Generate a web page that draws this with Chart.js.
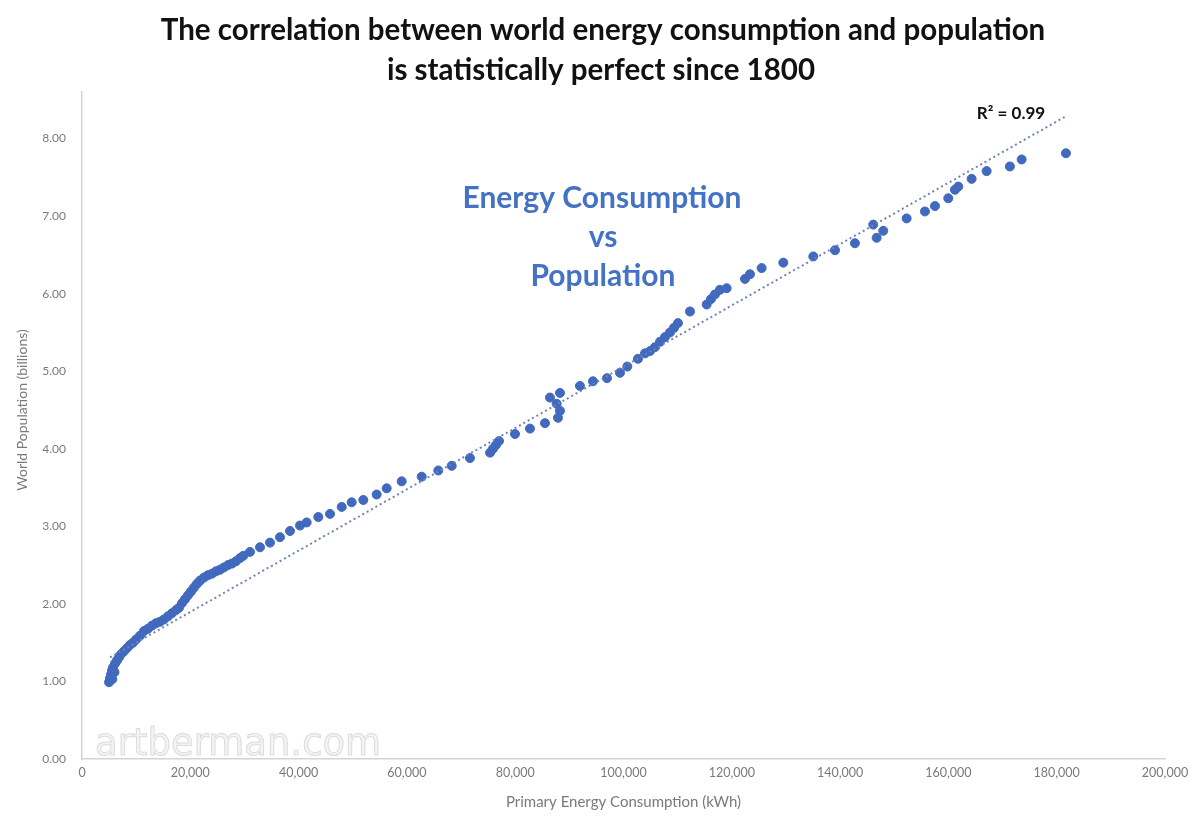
<!DOCTYPE html>
<html>
<head>
<meta charset="utf-8">
<script src="https://cdn.jsdelivr.net/npm/chart.js@4.4.1/dist/chart.umd.min.js"></script>
<style>
  body { margin: 0; background: #fff; }
  #wrap { width: 1199px; height: 817px; }
</style>
</head>
<body>
<div id="wrap"><canvas id="energyPop" width="1199" height="817"></canvas></div>
<script>
// primary energy consumption (TWh, axis says kWh) vs world population (billions)
const energy = [
  5000, 5170, 5360, 5540, 5600, 5730, 6000, 6090, 6460, 6830, 7200, 7760, 8310, 8860, 9420, 9970,
  10710, 11450, 12190, 12930, 13660, 14400, 15140, 15880, 16620, 17360, 17910, 18470, 19020,
  19570, 20130, 20680, 21240, 21790, 22530, 23270, 24010, 24740, 25480, 26220, 26960, 27700,
  28440, 29180, 29790, 31020, 32870, 34720, 36560, 38410, 40260, 41490, 43640, 45800, 47960,
  49800, 51950, 54420, 56270, 59040, 62730, 65800, 68270, 71650, 75360, 75900, 76460, 77010,
  79960, 82730, 85500, 87900, 88270, 87660, 86420, 88270, 91960, 94360, 96950, 99350, 100700,
  102670, 103970, 104900, 105810, 106740, 107660, 108590, 109330, 110060, 112280, 115360,
  116150, 116890, 117810, 119050, 122430, 123360, 125510, 129510, 135050, 139060, 142740,
  146120, 146750, 147970, 152290, 155670, 157520, 159980, 161210, 161820, 164290, 167060,
  171360, 173530, 181710
];
const population = [
  0.99, 1.04, 1.09, 1.14, 1.03, 1.18, 1.12, 1.23, 1.27, 1.31, 1.35, 1.39, 1.43, 1.47, 1.50, 1.54,
  1.59, 1.65, 1.68, 1.72, 1.75, 1.77, 1.80, 1.84, 1.88, 1.92, 1.95, 2.01, 2.06,
  2.11, 2.16, 2.21, 2.26, 2.30, 2.34, 2.37, 2.39, 2.42, 2.44, 2.47, 2.50, 2.52,
  2.55, 2.59, 2.62, 2.67, 2.73, 2.79, 2.86, 2.94, 3.01, 3.05, 3.12, 3.16, 3.25,
  3.31, 3.34, 3.41, 3.49, 3.58, 3.64, 3.72, 3.78, 3.88, 3.95, 4.00, 4.05, 4.10,
  4.19, 4.26, 4.33, 4.40, 4.49, 4.58, 4.66, 4.72, 4.81, 4.87, 4.91, 4.98, 5.06,
  5.16, 5.23, 5.26, 5.31, 5.38, 5.44, 5.50, 5.56, 5.62, 5.77, 5.86,
  5.93, 5.99, 6.05, 6.07, 6.19, 6.25, 6.33, 6.40, 6.48, 6.56, 6.65,
  6.89, 6.72, 6.81, 6.97, 7.06, 7.13, 7.23, 7.34, 7.38, 7.48, 7.58,
  7.64, 7.73, 7.81
];
// linear trendline end points
const trendEnergy = [5170, 181530];
const trendPopulation = [1.31, 8.28];

const titleLines = ['The correlation between world energy consumption and population', 'is statistically perfect since 1800'];
const noteLines = ['Energy Consumption', 'vs', 'Population'];
const rSquared = 'R\u00b2 = 0.99';
const watermark = 'artberman.com';
const yTitle = 'World Population (billions)';

const points = energy.map((e, i) => ({ x: e, y: population[i] }));
const trend = trendEnergy.map((e, i) => ({ x: e, y: trendPopulation[i] }));

const textPlugin = {
  id: 'textPlugin',
  beforeDatasetsDraw(chart) {
    const ctx = chart.ctx;
    ctx.save();
    ctx.font = '37px "DejaVu Sans"';
    ctx.textAlign = 'left';
    ctx.textBaseline = 'alphabetic';
    ctx.fillStyle = '#f4f4f4';
    ctx.strokeStyle = '#dcdcdc';
    ctx.lineWidth = 1;
    ctx.fillText(watermark, 95, 755);
    ctx.strokeText(watermark, 95, 755);
    ctx.restore();
  },
  afterDraw(chart) {
    const ctx = chart.ctx;
    ctx.save();
    ctx.textAlign = 'center';
    ctx.textBaseline = 'middle';
    ctx.fillStyle = '#111';
    ctx.font = 'bold 29.5px Lato';
    ctx.fillText(titleLines[0], 603, 30);
    ctx.fillText(titleLines[1], 601, 70);

    ctx.fillStyle = '#4472C4';
    ctx.font = 'bold 30px Lato';
    ctx.fillText(noteLines[0], 602, 198);
    ctx.fillText(noteLines[1], 603, 237);
    ctx.fillText(noteLines[2], 603, 276);

    ctx.fillStyle = '#111';
    ctx.font = 'bold 17px Lato';
    ctx.fillText(rSquared, 1011, 114);

    // y axis title
    ctx.fillStyle = '#7a7a7a';
    ctx.font = '14px Lato';
    ctx.translate(22, 410);
    ctx.rotate(-Math.PI / 2);
    ctx.fillText(yTitle, 0, 0);
    ctx.restore();
  }
};

const ctx = document.getElementById('energyPop').getContext('2d');
new Chart(ctx, {
  type: 'scatter',
  data: {
    datasets: [
      {
        label: 'Trend',
        type: 'line',
        data: trend,
        borderColor: '#6d84b4',
        borderWidth: 2,
        borderDash: [2, 3],
        pointRadius: 0,
        fill: false
      },
      {
        label: 'Energy vs Population',
        data: points,
        backgroundColor: '#4169bd',
        borderColor: '#4169bd',
        pointRadius: 4.5,
        pointHoverRadius: 4.5
      }
    ]
  },
  options: {
    responsive: false,
    animation: false,
    devicePixelRatio: 1,
    layout: { padding: { top: 92, right: 34, left: 0, bottom: 0 } },
    plugins: {
      legend: { display: false },
      tooltip: { enabled: false }
    },
    scales: {
      x: {
        type: 'linear',
        min: 0,
        max: 200000,
        grid: { display: false, drawTicks: false },
        border: { display: true, color: '#d4d4d4', width: 1.5 },
        ticks: {
          stepSize: 20000,
          padding: 6,
          color: '#7a7a7a',
          font: { family: 'Lato', size: 12.5 },
          callback: v => v.toLocaleString('en-US')
        },
        title: {
          display: true,
          text: 'Primary Energy Consumption (kWh)',
          color: '#7a7a7a',
          font: { family: 'Lato', size: 15 },
          padding: { top: 0, bottom: 6 }
        },
        afterFit: scale => { scale.height = 58; }
      },
      y: {
        min: 0,
        max: 8.6,
        grid: { display: false, drawTicks: false },
        border: { display: true, color: '#d4d4d4', width: 1.5 },
        afterBuildTicks: scale => {
          scale.ticks = scale.ticks.filter(t => Number.isInteger(t.value));
        },
        ticks: {
          stepSize: 1,
          padding: 16,
          color: '#7a7a7a',
          font: { family: 'Lato', size: 12 },
          callback: v => Number(v).toFixed(2)
        },
        afterFit: scale => { scale.width = 82; }
      }
    }
  },
  plugins: [textPlugin]
});
</script>
</body>
</html>
